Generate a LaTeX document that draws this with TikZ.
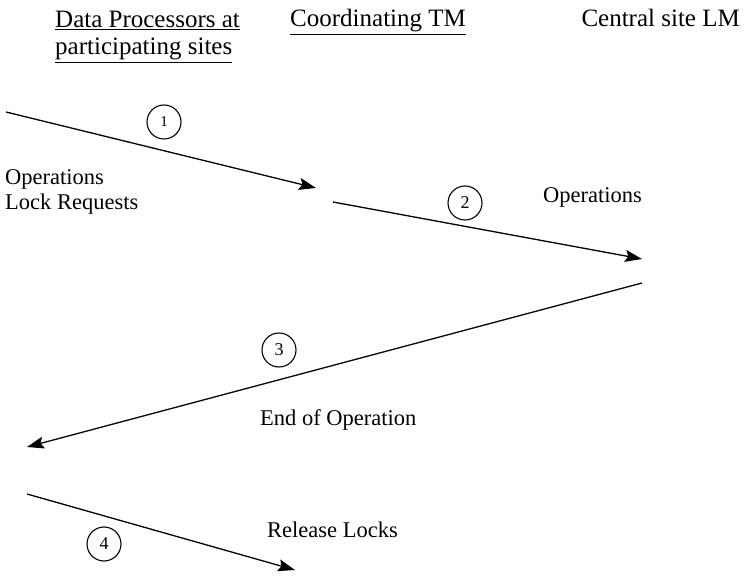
\documentclass[tikz,border=0pt]{standalone}
\usepackage{fontspec}
\setmainfont{Liberation Serif}
\usetikzlibrary{arrows.meta,positioning}

\tikzset{
  msg/.style={line width=1.3pt,-{Stealth[length=17pt,width=12pt,inset=3pt]}},
  num/.style={draw,circle,line width=1.1pt,minimum size=34pt,inner sep=0pt,font=\fontsize{18}{18}\selectfont},
  txt/.style={inner sep=0pt,align=left,font=\fontsize{22.5}{25}\selectfont},
  head/.style={inner sep=0pt,align=left,font=\fontsize{25}{27}\selectfont}
}

\begin{document}
\begin{tikzpicture}[x=1pt,y=-1pt]
\useasboundingbox (0,0) rectangle (747,577);

% column headings
\node[head,anchor=base west] (dp) at (55,55) {\underline{Data Processors at}\\\underline{participating sites}};
\node[head,anchor=base west] (tm) at (290,27) {\underline{Coordinating TM}};
\node[head,anchor=base east] (lm) at (740,27) {Central site LM};

% end points of the messages
\coordinate (a1) at (6,112);    \coordinate (b1) at (316,188);
\coordinate (a2) at (333,202);  \coordinate (b2) at (642,259);
\coordinate (a3) at (642,283);  \coordinate (b3) at (27,447);
\coordinate (a4) at (27,494);   \coordinate (b4) at (295,570);

\draw[msg] (a1) -- (b1);
\draw[msg] (a2) -- (b2);
\draw[msg] (a3) -- (b3);
\draw[msg] (a4) -- (b4);

% step numbers
\node[num,font=\fontsize{15}{15}\selectfont] (n1) at (164,122) {1};
\node[num] (n2) at (465,203) {2};
\node[num] (n3) at (279,350) {3};
\node[num] (n4) at (104,544) {4};

% message texts
\node[txt,anchor=base west] (ops) at (5,210) {Operations\\Lock Requests};
\node[txt,anchor=base west] (ops2) at (543,203) {Operations};
\node[txt,anchor=base west] (eop) at (260,425) {End of Operation};
\node[txt,anchor=base west] (rel) at (267,537) {Release Locks};
\end{tikzpicture}
\end{document}
